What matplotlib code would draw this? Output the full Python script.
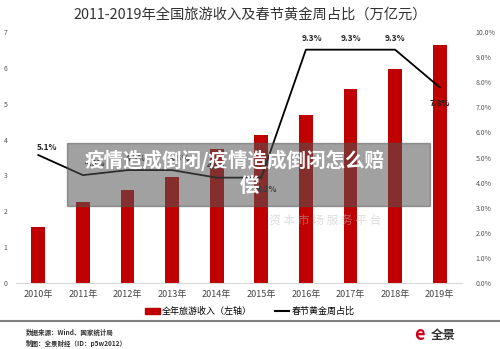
import numpy as np
import matplotlib.pyplot as plt
from matplotlib.patches import Rectangle
from matplotlib.lines import Line2D

plt.rcParams['font.family'] = ['Noto Sans CJK SC', 'DejaVu Sans']

years = ['2010年', '2011年', '2012年', '2013年', '2014年',
         '2015年', '2016年', '2017年', '2018年', '2019年']
revenue = [1.57, 2.25, 2.59, 2.95, 3.73, 4.13, 4.69, 5.40, 5.97, 6.63]
share = [5.1, 4.3, 4.5, 4.5, 4.2, 4.2, 9.3, 9.3, 9.3, 7.8]
left_ticks = [0, 1, 2, 3, 4, 5, 6, 7]
right_ticks = [0, 1, 2, 3, 4, 5, 6, 7, 8, 9, 10]

fig = plt.figure(figsize=(5, 3.49), dpi=100)
ax = fig.add_axes([0.032, 0.189, 0.892, 0.719])
ax2 = ax.twinx()

x = np.arange(len(years))
ax.bar(x, revenue, width=0.31, color='#C00000', zorder=2)
ax.set_xlim(-0.5, len(years) - 0.5)
ax.set_ylim(0, 7)
ax.set_yticks(left_ticks)
ax.set_yticklabels([str(t) for t in left_ticks], fontsize=5, color='#555555')
ax.set_xticks(x)
ax.set_xticklabels(years, fontsize=6.5, color='#444444')
ax.tick_params(axis='both', length=0, pad=6)
ax.tick_params(axis='x', pad=5)

ax2.plot(x, share, color='black', lw=1.3, zorder=3)
ax2.set_ylim(0, 10)
ax2.set_yticks(right_ticks)
ax2.set_yticklabels(['%.1f%%' % t for t in right_ticks], fontsize=5, color='#555555')
ax2.tick_params(axis='y', length=0, pad=10)

for a in (ax, ax2):
    for s in a.spines.values():
        s.set_visible(False)
ax.spines['bottom'].set_visible(True)
ax.spines['bottom'].set_color('#d9d9d9')

# data labels
offsets = [(6, 2), (9, 5), (6, 5), (6, 5), (0, 5), (4, -12), (4, 5), (0, 5), (0, 5), (0, -15)]
for i, v in enumerate(share):
    dx, dy = offsets[i]
    ax2.annotate('%.1f%%' % v, (x[i], v), xytext=(dx, dy), textcoords='offset points',
                 ha='center', va='bottom', fontsize=6, fontweight='bold', color='#222222')

fig.text(0.5, 0.958, '2011-2019年全国旅游收入及春节黄金周占比（万亿元）',
         ha='center', va='center', fontsize=10.3, color='#333333')

# legend
handles = [Rectangle((0, 0), 1, 1, color='#C00000'),
           Line2D([0], [0], color='black', lw=1.5)]
fig.legend(handles, ['全年旅游收入（左轴）', '春节黄金周占比'], loc='center',
           bbox_to_anchor=(0.5, 0.107), ncol=2, frameon=False, fontsize=6.5,
           handlelength=1.6, handleheight=0.6, columnspacing=2.5, handletextpad=0.3)

# separator and footer
fig.add_artist(Line2D([0, 1], [1 - 321 / 349] * 2, color='#808080', lw=1.5))
fig.text(0.052, 1 - 332 / 349, '数据来源：Wind、国家统计局', fontsize=4.7,
         fontweight='bold', color='#333333', va='center')
fig.text(0.052, 1 - 343 / 349, '制图：全景财经（ID：p5w2012）', fontsize=4.7,
         fontweight='bold', color='#333333', va='center')
fig.text(0.862, 1 - 335 / 349, '全景', fontsize=9, fontweight='bold', color='#333333', va='center')
fig.text(0.838, 1 - 335 / 349, 'e', fontsize=13, fontweight='bold', color='#d0021b',
         va='center', ha='center')

# faint watermark
fig.text(0.65, 1 - 220 / 349, '资 本 市 场 服 务 平 台', fontsize=8.5, color='#bbbbbb',
         alpha=0.5, ha='center', va='center')

# overlay banner
fig.add_artist(Rectangle((67 / 500, 1 - 206 / 349), 363 / 500, 63 / 349,
                         transform=fig.transFigure, color='#555555', alpha=0.55, zorder=5))
fig.text(0.47, 1 - 160 / 349, '疫情造成倒闭/疫情造成倒闭怎么赔', fontsize=14,
         fontweight='bold', color='white', ha='center', va='center', zorder=6)
fig.text(0.5, 1 - 187 / 349, '偿', fontsize=14, fontweight='bold', color='white',
         ha='center', va='center', zorder=6)

fig.savefig('out.png', dpi=100)
